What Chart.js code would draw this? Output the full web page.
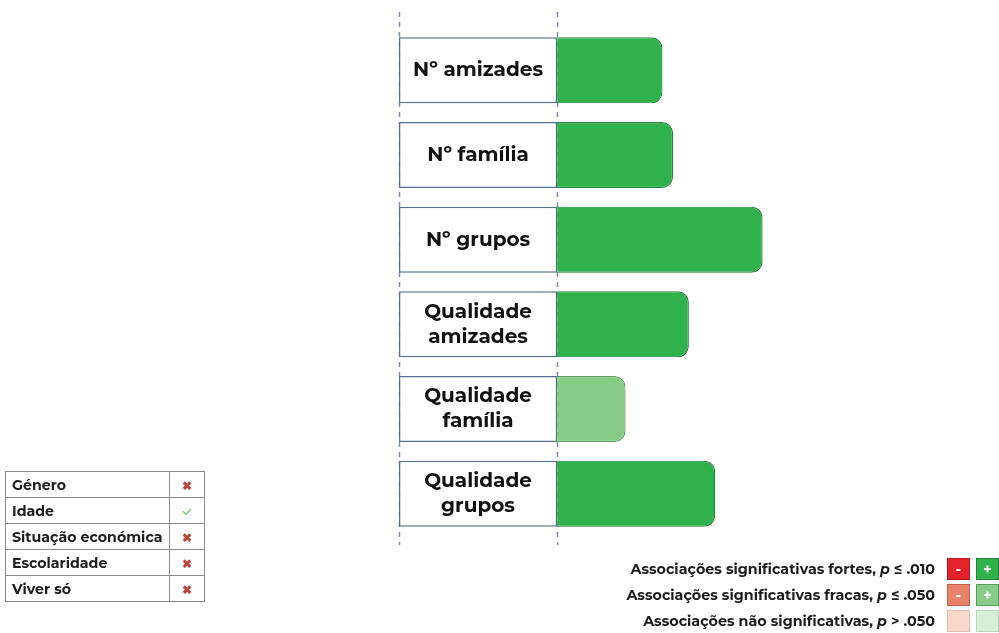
<!DOCTYPE html>
<html>
<head>
<meta charset="utf-8">
<script src="https://cdn.jsdelivr.net/npm/chart.js@4"></script>
<style>
  html, body { margin: 0; padding: 0; background: #fff; }
  body { width: 999px; height: 633px; position: relative; overflow: hidden;
         font-family: "Montserrat", "Inter", "Noto Sans", sans-serif; }
  #wrap { position: absolute; left: 0; top: 0; width: 999px; height: 633px; }
  table.cov { position: absolute; left: 5px; top: 471px; border-collapse: collapse; table-layout: fixed; }
  table.cov td { border: 1px solid #8a8a8a; height: 25px; padding: 0 0 0 6px; white-space: nowrap;
                 font-size: 14.2px; font-weight: 700; color: #1d1d1d; }
  table.cov td.mk { width: 34px; text-align: center; padding: 0; }
  .no { color: #b8463d; font-size: 12px; }
  .yes { color: #52b36a; font-size: 13px; font-weight: 400; }
  .leg { position: absolute; right: 0; top: 556px; }
  .leg .row { display: flex; align-items: center; justify-content: flex-end; height: 26px; }
  .leg .txt { font-size: 14.3px; font-weight: 700; color: #1d1d1d; margin-right: 6px; }
  .leg .sq { width: 23px; height: 22px; box-sizing: border-box; margin-left: 6px;
             color: #fff; font-weight: 700; font-size: 15px; line-height: 20px; text-align: center; }
</style>
</head>
<body>
<div id="wrap"><canvas id="myChart" width="999" height="633"></canvas></div>

<table class="cov" id="covTable"></table>
<div class="leg" id="legend"></div>

<script>
// categories (label boxes), bar values and significance level
var categories = [['Nº amizades'], ['Nº família'], ['Nº grupos'],
                  ['Qualidade', 'amizades'], ['Qualidade', 'família'], ['Qualidade', 'grupos']];
var values = [0.20, 0.22, 0.39, 0.25, 0.13, 0.30];
var significance = ['forte', 'forte', 'forte', 'forte', 'fraca', 'forte'];
var boxStart = -0.3;

var covariates = ['Género', 'Idade', 'Situação económica', 'Escolaridade', 'Viver só'];
var covEffect = [false, true, false, false, false];

var legendLabels = ['Associações significativas fortes, <i>p</i> ≤ .010',
                    'Associações significativas fracas, <i>p</i> ≤ .050',
                    'Associações não significativas, <i>p</i> > .050'];

var greenFill = { forte: '#2fb14c', fraca: '#86cb86', nao: '#d9eeda' };
var greenLine = { forte: '#23803a', fraca: '#5c9e5f', nao: '#b9d6bb' };

var boxText = {
  id: 'boxText',
  afterDatasetsDraw: function (chart) {
    var ctx = chart.ctx;
    var meta = chart.getDatasetMeta(0);
    ctx.save();
    ctx.fillStyle = '#111';
    ctx.font = '700 20px "Montserrat", "Inter", sans-serif';
    ctx.textAlign = 'center';
    ctx.textBaseline = 'middle';
    meta.data.forEach(function (bar, i) {
      var lines = categories[i];
      var cx = (bar.x + bar.base) / 2;
      var lh = 25;
      lines.forEach(function (t, j) {
        ctx.fillText(t, cx, bar.y + (j - (lines.length - 1) / 2) * lh);
      });
    });
    ctx.restore();
  }
};

var dashLines = {
  id: 'dashLines',
  beforeDatasetsDraw: function (chart) {
    var ctx = chart.ctx;
    var x = chart.scales.x;
    var a = chart.chartArea;
    ctx.save();
    ctx.strokeStyle = '#7d8db0';
    ctx.lineWidth = 1.5;
    ctx.setLineDash([5, 5]);
    [boxStart, 0].forEach(function (v) {
      var px = Math.round(x.getPixelForValue(v)) + 0.5;
      ctx.beginPath();
      ctx.moveTo(px, a.top - 16);
      ctx.lineTo(px, a.bottom + 9);
      ctx.stroke();
    });
    ctx.restore();
  }
};

var ctx = document.getElementById('myChart').getContext('2d');
var myChart = new Chart(ctx, {
  type: 'bar',
  data: {
    labels: categories.map(function (c) { return c.join(' '); }),
    datasets: [{
      label: 'labels',
      data: categories.map(function () { return [boxStart, 0]; }),
      backgroundColor: '#ffffff',
      borderColor: '#5d6f8e',
      borderWidth: 1.5,
      borderSkipped: false,
      grouped: false,
      order: 2
    }, {
      label: 'associação',
      data: values,
      backgroundColor: significance.map(function (s) { return greenFill[s]; }),
      borderColor: significance.map(function (s) { return greenLine[s]; }),
      borderWidth: 1.2,
      borderRadius: 11,
      borderSkipped: 'start',
      grouped: false,
      order: 1
    }]
  },
  options: {
    indexAxis: 'y',
    responsive: false,
    animation: false,
    barPercentage: 0.78,
    categoryPercentage: 1,
    layout: { padding: { left: 399, right: 73, top: 28, bottom: 97 } },
    scales: {
      x: { display: false, min: -0.3, max: 0.7 },
      y: { display: false }
    },
    plugins: { legend: { display: false }, tooltip: { enabled: false } }
  },
  plugins: [dashLines, boxText]
});

// covariates table
var tbl = document.getElementById('covTable');
covariates.forEach(function (c, i) {
  var tr = document.createElement('tr');
  tr.innerHTML = '<td style="width:157px">' + c + '</td><td class="mk">' +
    (covEffect[i] ? '<span class="yes">✓</span>' : '<span class="no">✖</span>') + '</td>';
  tbl.appendChild(tr);
});

// significance legend
var legFill = [['#e3222b', greenFill.forte], ['#e8826b', greenFill.fraca], ['#f9d7c9', greenFill.nao]];
var legLine = [['#b51a20', greenLine.forte], ['#c2624f', greenLine.fraca], ['#e2bcae', greenLine.nao]];
var legSign = [['-', '+'], ['-', '+'], ['', '']];
var leg = document.getElementById('legend');
legendLabels.forEach(function (t, i) {
  var row = document.createElement('div');
  row.className = 'row';
  var html = '<span class="txt">' + t + '</span>';
  for (var k = 0; k < 2; k++) {
    html += '<span class="sq" style="background:' + legFill[i][k] + ';border:1px solid ' +
      legLine[i][k] + '">' + legSign[i][k] + '</span>';
  }
  row.innerHTML = html;
  leg.appendChild(row);
});
</script>
</body>
</html>
